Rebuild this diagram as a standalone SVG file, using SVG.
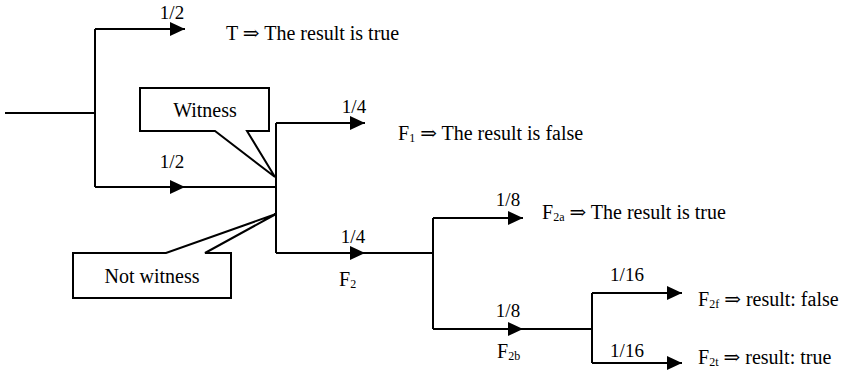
<svg xmlns="http://www.w3.org/2000/svg" width="843" height="373" viewBox="0 0 843 373">
<style>
.ln{fill:none;stroke:#000;stroke-width:2}
.co{fill:#fff;stroke:#000;stroke-width:2;stroke-linejoin:miter}
text{font-family:"Liberation Serif","DejaVu Serif",serif;font-size:20px;fill:#000}
.c{text-anchor:middle}
.n{font-size:19px}
.s{font-size:12px}
</style>
<defs>
<marker id="ah" markerUnits="userSpaceOnUse" markerWidth="16" markerHeight="14" refX="15" refY="7" orient="auto" viewBox="0 0 16 14">
<path d="M0,0 L15,7 L0,14 Z" fill="#000"/>
</marker>
</defs>
<g id="connectors">
<path class="ln" d="M5,113 H95"/>
<path class="ln" d="M95,29 V187"/>
<path class="ln" d="M95,29 H185" marker-end="url(#ah)"/>
<path class="ln" d="M95,187 H185" marker-end="url(#ah)"/>
<path class="ln" d="M185,187 H276"/>
<path class="ln" d="M276,123 V253"/>
<path class="ln" d="M276,123 H365" marker-end="url(#ah)"/>
<path class="ln" d="M276,253 H365" marker-end="url(#ah)"/>
<path class="ln" d="M365,253 H433"/>
<path class="ln" d="M433,218 V329"/>
<path class="ln" d="M433,218 H523" marker-end="url(#ah)"/>
<path class="ln" d="M433,329 H523" marker-end="url(#ah)"/>
<path class="ln" d="M523,329 H592"/>
<path class="ln" d="M592,293 V363"/>
<path class="ln" d="M592,293 H682" marker-end="url(#ah)"/>
<path class="ln" d="M592,363 H682" marker-end="url(#ah)"/>
</g>
<g id="witness">
<path class="co" d="M140,88 H269 V131 H247 L275,177 L215,131 H140 Z"/>
<text class="c" x="205" y="117">Witness</text>
</g>
<g id="not-witness">
<path class="co" d="M73,253 H166 L276,214 L205,253 H231 V298 H73 Z"/>
<text class="c" x="152" y="283">Not witness</text>
</g>
<g id="labels">
<text class="c n" x="172" y="19">1/2</text>
<text x="226" y="40">T ⇒ The result is true</text>
<text class="c n" x="172" y="168">1/2</text>
<text class="c n" x="354" y="113">1/4</text>
<text x="398" y="140">F<tspan class="s" dy="2">1</tspan><tspan dy="-2"> ⇒ The result is false</tspan></text>
<text class="c n" x="353" y="243">1/4</text>
<text x="339" y="286">F<tspan class="s" dy="2">2</tspan></text>
<text class="c n" x="508" y="206">1/8</text>
<text x="542" y="219">F<tspan class="s" dy="2">2a</tspan><tspan dy="-2"> ⇒ The result is true</tspan></text>
<text class="c n" x="508" y="317">1/8</text>
<text x="497" y="358">F<tspan class="s" dy="2">2b</tspan></text>
<text class="c n" x="627" y="281">1/16</text>
<text x="698" y="306">F<tspan class="s" dy="2">2f</tspan><tspan dy="-2"> ⇒ result: false</tspan></text>
<text class="c n" x="627" y="357">1/16</text>
<text x="698" y="364">F<tspan class="s" dy="2">2t</tspan><tspan dy="-2"> ⇒ result: true</tspan></text>
</g>
</svg>
